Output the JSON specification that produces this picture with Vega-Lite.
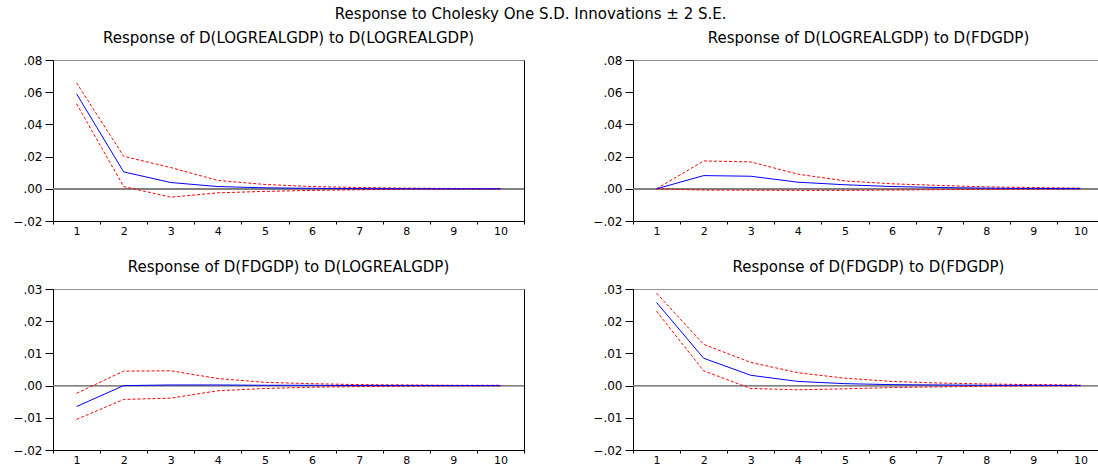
{
  "$schema": "https://vega.github.io/schema/vega-lite/v6.json",
  "padding": {"left": 12, "top": 7, "right": 0, "bottom": 0},
  "background": "white",
  "title": {"text": "Response to Cholesky One S.D. Innovations ± 2 S.E.", "font": "DejaVu Sans", "fontSize": 15, "fontWeight": "normal", "color": "black", "anchor": "middle", "dx": -28, "offset": 9},
  "config": {
    "view": {"stroke": null},
    "font": "DejaVu Sans",
    "title": {"font": "DejaVu Sans", "fontSize": 15, "fontWeight": "normal", "color": "black", "offset": 8},
    "axis": {"labelFont": "DejaVu Sans", "labelFontSize": 12, "labelColor": "black", "domainColor": "black", "tickColor": "black", "grid": false, "title": null}
  },
  "bounds": "flush",
  "spacing": {"row": 68, "column": 109},
  "datasets": {
    "irf": [
      {"p": 1, "h": 1, "r": 0.0590, "hi": 0.0658, "lo": 0.0528},
      {"p": 1, "h": 2, "r": 0.0105, "hi": 0.0202, "lo": 0.0014},
      {"p": 1, "h": 3, "r": 0.0039, "hi": 0.0132, "lo": -0.0052},
      {"p": 1, "h": 4, "r": 0.0014, "hi": 0.0052, "lo": -0.0025},
      {"p": 1, "h": 5, "r": 0.0006, "hi": 0.0027, "lo": -0.0016},
      {"p": 1, "h": 6, "r": 0.0003, "hi": 0.0014, "lo": -0.0010},
      {"p": 1, "h": 7, "r": 0.0001, "hi": 0.0008, "lo": -0.0006},
      {"p": 1, "h": 8, "r": 0.0000, "hi": 0.0004, "lo": -0.0003},
      {"p": 1, "h": 9, "r": 0.0000, "hi": 0.0002, "lo": -0.0002},
      {"p": 1, "h": 10, "r": 0.0000, "hi": 0.0001, "lo": -0.0001},
      {"p": 2, "h": 1, "r": 0.0, "hi": 0.0, "lo": 0.0},
      {"p": 2, "h": 2, "r": 0.0082, "hi": 0.0173, "lo": -0.0008},
      {"p": 2, "h": 3, "r": 0.0078, "hi": 0.0167, "lo": -0.0009},
      {"p": 2, "h": 4, "r": 0.0041, "hi": 0.0091, "lo": -0.0010},
      {"p": 2, "h": 5, "r": 0.0025, "hi": 0.0049, "lo": -0.0010},
      {"p": 2, "h": 6, "r": 0.0014, "hi": 0.0031, "lo": -0.0008},
      {"p": 2, "h": 7, "r": 0.0008, "hi": 0.0021, "lo": -0.0005},
      {"p": 2, "h": 8, "r": 0.0004, "hi": 0.0012, "lo": -0.0003},
      {"p": 2, "h": 9, "r": 0.0002, "hi": 0.0008, "lo": -0.0002},
      {"p": 2, "h": 10, "r": 0.0001, "hi": 0.0004, "lo": -0.0001},
      {"p": 3, "h": 1, "r": -0.0065, "hi": -0.0024, "lo": -0.0105},
      {"p": 3, "h": 2, "r": 0.0000, "hi": 0.0045, "lo": -0.0043},
      {"p": 3, "h": 3, "r": 0.0002, "hi": 0.0046, "lo": -0.0039},
      {"p": 3, "h": 4, "r": 0.0002, "hi": 0.0022, "lo": -0.0016},
      {"p": 3, "h": 5, "r": 0.0001, "hi": 0.0010, "lo": -0.0009},
      {"p": 3, "h": 6, "r": 0.0001, "hi": 0.0006, "lo": -0.0005},
      {"p": 3, "h": 7, "r": 0.0000, "hi": 0.0003, "lo": -0.0003},
      {"p": 3, "h": 8, "r": 0.0000, "hi": 0.0002, "lo": -0.0002},
      {"p": 3, "h": 9, "r": 0.0000, "hi": 0.0001, "lo": -0.0001},
      {"p": 3, "h": 10, "r": 0.0000, "hi": 0.0001, "lo": -0.0001},
      {"p": 4, "h": 1, "r": 0.0258, "hi": 0.0287, "lo": 0.0231},
      {"p": 4, "h": 2, "r": 0.0085, "hi": 0.0128, "lo": 0.0046},
      {"p": 4, "h": 3, "r": 0.0032, "hi": 0.0072, "lo": -0.0009},
      {"p": 4, "h": 4, "r": 0.0013, "hi": 0.0040, "lo": -0.0013},
      {"p": 4, "h": 5, "r": 0.0006, "hi": 0.0023, "lo": -0.0010},
      {"p": 4, "h": 6, "r": 0.0003, "hi": 0.0013, "lo": -0.0006},
      {"p": 4, "h": 7, "r": 0.0002, "hi": 0.0008, "lo": -0.0004},
      {"p": 4, "h": 8, "r": 0.0001, "hi": 0.0005, "lo": -0.0002},
      {"p": 4, "h": 9, "r": 0.0001, "hi": 0.0003, "lo": -0.0001},
      {"p": 4, "h": 10, "r": 0.0000, "hi": 0.0002, "lo": -0.0001}
    ]
  },
  "columns": 2,
  "concat": [
    {
      "title": "Response of D(LOGREALGDP) to D(LOGREALGDP)",
      "width": 471, "height": 161,
      "data": {"name": "irf"},
      "transform": [{"filter": "datum.p == 1"}],
      "resolve": {"axis": {"x": "independent", "y": "independent"}},
      "layer": [
        {"mark": {"type": "rule", "color": "#808080", "strokeWidth": 1}, "encoding": {"y": {"datum": 0, "type": "quantitative", "scale": {"domain": [-0.02, 0.08], "nice": false, "zero": false}, "axis": null}}},
        {"mark": {"type": "line", "color": "#ff0000", "strokeWidth": 1, "strokeDash": [3, 2]},
         "encoding": {
           "x": {"field": "h", "type": "ordinal", "bandPosition": 0.5, "scale": {"type": "band", "paddingInner": 0, "paddingOuter": 0}, "axis": {"orient": "bottom", "labelAngle": 0, "tickBand": "extent", "tickSize": 3, "labelPadding": 1, "labelFontSize": 11, "title": null}},
           "y": {"field": "hi", "type": "quantitative", "scale": {"domain": [-0.02, 0.08], "nice": false, "zero": false}, "axis": {"orient": "left", "values": [-0.02, 0, 0.02, 0.04, 0.06, 0.08], "labelExpr": "replace(format(datum.value, '.2f'), '0.', '.')", "tickSize": 8, "labelPadding": 3, "title": null}}
         }},
        {"mark": {"type": "line", "color": "#ff0000", "strokeWidth": 1, "strokeDash": [3, 2]},
         "encoding": {
           "x": {"field": "h", "type": "ordinal", "bandPosition": 0.5, "axis": null},
           "y": {"field": "lo", "type": "quantitative", "axis": null}
         }},
        {"mark": {"type": "line", "color": "#0000ff", "strokeWidth": 1},
         "encoding": {
           "x": {"field": "h", "type": "ordinal", "bandPosition": 0.5, "axis": {"orient": "top", "labels": false, "ticks": false, "domainColor": "#909090", "title": null}},
           "y": {"field": "r", "type": "quantitative", "axis": {"orient": "right", "labels": false, "ticks": false, "title": null}}
         }}
      ]
    },
    {
      "title": "Response of D(LOGREALGDP) to D(FDGDP)",
      "width": 471, "height": 161,
      "data": {"name": "irf"},
      "transform": [{"filter": "datum.p == 2"}],
      "resolve": {"axis": {"x": "independent", "y": "independent"}},
      "layer": [
        {"mark": {"type": "rule", "color": "#808080", "strokeWidth": 1}, "encoding": {"y": {"datum": 0, "type": "quantitative", "scale": {"domain": [-0.02, 0.08], "nice": false, "zero": false}, "axis": null}}},
        {"mark": {"type": "line", "color": "#ff0000", "strokeWidth": 1, "strokeDash": [3, 2]},
         "encoding": {
           "x": {"field": "h", "type": "ordinal", "bandPosition": 0.5, "scale": {"type": "band", "paddingInner": 0, "paddingOuter": 0}, "axis": {"orient": "bottom", "labelAngle": 0, "tickBand": "extent", "tickSize": 3, "labelPadding": 1, "labelFontSize": 11, "title": null}},
           "y": {"field": "hi", "type": "quantitative", "scale": {"domain": [-0.02, 0.08], "nice": false, "zero": false}, "axis": {"orient": "left", "values": [-0.02, 0, 0.02, 0.04, 0.06, 0.08], "labelExpr": "replace(format(datum.value, '.2f'), '0.', '.')", "tickSize": 8, "labelPadding": 3, "title": null}}
         }},
        {"mark": {"type": "line", "color": "#ff0000", "strokeWidth": 1, "strokeDash": [3, 2]},
         "encoding": {
           "x": {"field": "h", "type": "ordinal", "bandPosition": 0.5, "axis": null},
           "y": {"field": "lo", "type": "quantitative", "axis": null}
         }},
        {"mark": {"type": "line", "color": "#0000ff", "strokeWidth": 1},
         "encoding": {
           "x": {"field": "h", "type": "ordinal", "bandPosition": 0.5, "axis": {"orient": "top", "labels": false, "ticks": false, "domainColor": "#909090", "title": null}},
           "y": {"field": "r", "type": "quantitative", "axis": {"orient": "right", "labels": false, "ticks": false, "title": null}}
         }}
      ]
    },
    {
      "title": "Response of D(FDGDP) to D(LOGREALGDP)",
      "width": 471, "height": 161,
      "data": {"name": "irf"},
      "transform": [{"filter": "datum.p == 3"}],
      "resolve": {"axis": {"x": "independent", "y": "independent"}},
      "layer": [
        {"mark": {"type": "rule", "color": "#808080", "strokeWidth": 1}, "encoding": {"y": {"datum": 0, "type": "quantitative", "scale": {"domain": [-0.02, 0.03], "nice": false, "zero": false}, "axis": null}}},
        {"mark": {"type": "line", "color": "#ff0000", "strokeWidth": 1, "strokeDash": [3, 2]},
         "encoding": {
           "x": {"field": "h", "type": "ordinal", "bandPosition": 0.5, "scale": {"type": "band", "paddingInner": 0, "paddingOuter": 0}, "axis": {"orient": "bottom", "labelAngle": 0, "tickBand": "extent", "tickSize": 3, "labelPadding": 1, "labelFontSize": 11, "title": null}},
           "y": {"field": "hi", "type": "quantitative", "scale": {"domain": [-0.02, 0.03], "nice": false, "zero": false}, "axis": {"orient": "left", "values": [-0.02, -0.01, 0, 0.01, 0.02, 0.03], "labelExpr": "replace(format(datum.value, '.2f'), '0.', '.')", "tickSize": 8, "labelPadding": 3, "title": null}}
         }},
        {"mark": {"type": "line", "color": "#ff0000", "strokeWidth": 1, "strokeDash": [3, 2]},
         "encoding": {
           "x": {"field": "h", "type": "ordinal", "bandPosition": 0.5, "axis": null},
           "y": {"field": "lo", "type": "quantitative", "axis": null}
         }},
        {"mark": {"type": "line", "color": "#0000ff", "strokeWidth": 1},
         "encoding": {
           "x": {"field": "h", "type": "ordinal", "bandPosition": 0.5, "axis": {"orient": "top", "labels": false, "ticks": false, "domainColor": "#909090", "title": null}},
           "y": {"field": "r", "type": "quantitative", "axis": {"orient": "right", "labels": false, "ticks": false, "title": null}}
         }}
      ]
    },
    {
      "title": "Response of D(FDGDP) to D(FDGDP)",
      "width": 471, "height": 161,
      "data": {"name": "irf"},
      "transform": [{"filter": "datum.p == 4"}],
      "resolve": {"axis": {"x": "independent", "y": "independent"}},
      "layer": [
        {"mark": {"type": "rule", "color": "#808080", "strokeWidth": 1}, "encoding": {"y": {"datum": 0, "type": "quantitative", "scale": {"domain": [-0.02, 0.03], "nice": false, "zero": false}, "axis": null}}},
        {"mark": {"type": "line", "color": "#ff0000", "strokeWidth": 1, "strokeDash": [3, 2]},
         "encoding": {
           "x": {"field": "h", "type": "ordinal", "bandPosition": 0.5, "scale": {"type": "band", "paddingInner": 0, "paddingOuter": 0}, "axis": {"orient": "bottom", "labelAngle": 0, "tickBand": "extent", "tickSize": 3, "labelPadding": 1, "labelFontSize": 11, "title": null}},
           "y": {"field": "hi", "type": "quantitative", "scale": {"domain": [-0.02, 0.03], "nice": false, "zero": false}, "axis": {"orient": "left", "values": [-0.02, -0.01, 0, 0.01, 0.02, 0.03], "labelExpr": "replace(format(datum.value, '.2f'), '0.', '.')", "tickSize": 8, "labelPadding": 3, "title": null}}
         }},
        {"mark": {"type": "line", "color": "#ff0000", "strokeWidth": 1, "strokeDash": [3, 2]},
         "encoding": {
           "x": {"field": "h", "type": "ordinal", "bandPosition": 0.5, "axis": null},
           "y": {"field": "lo", "type": "quantitative", "axis": null}
         }},
        {"mark": {"type": "line", "color": "#0000ff", "strokeWidth": 1},
         "encoding": {
           "x": {"field": "h", "type": "ordinal", "bandPosition": 0.5, "axis": {"orient": "top", "labels": false, "ticks": false, "domainColor": "#909090", "title": null}},
           "y": {"field": "r", "type": "quantitative", "axis": {"orient": "right", "labels": false, "ticks": false, "title": null}}
         }}
      ]
    }
  ]
}
